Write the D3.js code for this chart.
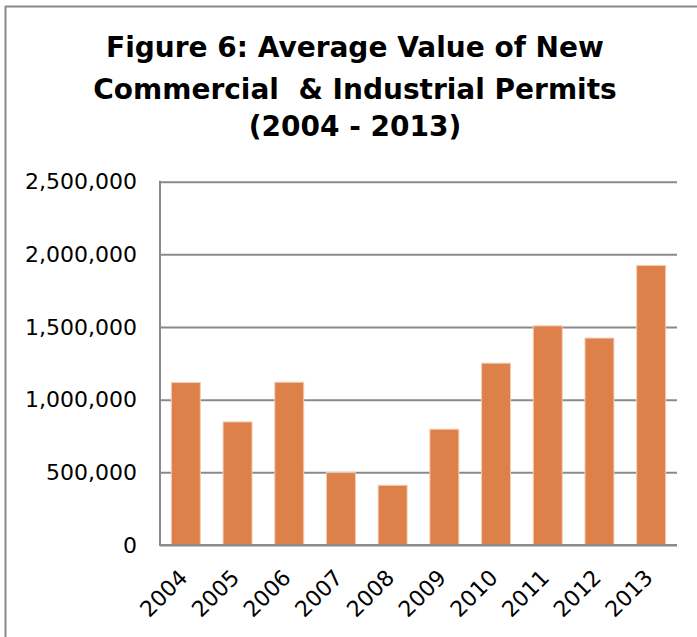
<!DOCTYPE html>
<html>
<head>
<meta charset="utf-8">
<script src="https://cdn.jsdelivr.net/npm/d3@7/dist/d3.min.js"></script>
<style>
  html, body { margin: 0; padding: 0; background: #fff; }
  svg { display: block; }
</style>
</head>
<body>
<script>
const years = ["2004","2005","2006","2007","2008","2009","2010","2011","2012","2013"];
const values = [1118000, 847000, 1120000, 498000, 411000, 797000, 1251000, 1508000, 1424000, 1924000];
const yTicks = [0, 500000, 1000000, 1500000, 2000000, 2500000];
const titleLines = ["Figure 6: Average Value of New", "Commercial  & Industrial Permits", "(2004 - 2013)"];

(function () {
const W = 697, H = 637;
const svg = d3.select("body").append("svg").attr("width", W).attr("height", H);

const pLeft = 160, pRight = 677, pTop = 181.7, pBottom = 545;
const x = d3.scaleBand().domain(years).range([pLeft, pRight]).paddingInner(0.44).paddingOuter(0.22);
const y = d3.scaleLinear().domain([0, 2500000]).range([pBottom, pTop]);

const grey = "#8a8a8a";

// frame
svg.append("line").attr("x1", 5).attr("x2", W).attr("y1", 6.5).attr("y2", 6.5)
  .attr("stroke", grey).attr("stroke-width", 2);
svg.append("line").attr("x1", 5.5).attr("x2", 5.5).attr("y1", 6).attr("y2", H)
  .attr("stroke", grey).attr("stroke-width", 2);

// title
const title = svg.append("text")
  .attr("font-family", "'DejaVu Sans', sans-serif")
  .attr("font-weight", "bold")
  .attr("font-size", 28)
  .attr("text-anchor", "middle")
  .attr("fill", "#000")
  .attr("xml:space", "preserve")
  .style("white-space", "pre");
const baselines = [57, 98.5, 136];
titleLines.forEach((t, i) => {
  title.append("tspan").attr("x", 355).attr("y", baselines[i]).text(t);
});

// y axis with gridlines
const yAxis = d3.axisLeft(y).tickValues(yTicks).tickFormat(d3.format(","))
  .tickSize(-(pRight - pLeft)).tickPadding(23);
const gy = svg.append("g").attr("transform", `translate(${pLeft},0)`).call(yAxis);
gy.select(".domain").remove();
gy.selectAll(".tick line").attr("stroke", grey).attr("stroke-width", 2);
gy.selectAll(".tick text")
  .attr("font-family", "'DejaVu Sans', sans-serif")
  .attr("font-size", 22)
  .attr("fill", "#000");

// left axis line
svg.append("line").attr("x1", pLeft).attr("x2", pLeft).attr("y1", pTop - 1).attr("y2", pBottom + 1)
  .attr("stroke", grey).attr("stroke-width", 2);

// bars
svg.append("g").selectAll("rect").data(years).join("rect")
  .attr("x", d => x(d))
  .attr("width", x.bandwidth())
  .attr("y", (d, i) => y(values[i]))
  .attr("height", (d, i) => y(0) - y(values[i]))
  .attr("fill", "#DE8049")
  .attr("stroke", "#f2cdb4")
  .attr("stroke-width", 1);

// x axis line
svg.append("line").attr("x1", pLeft - 1).attr("x2", pRight).attr("y1", pBottom).attr("y2", pBottom)
  .attr("stroke", grey).attr("stroke-width", 2);

// x labels
svg.append("g").selectAll("text").data(years).join("text")
  .attr("transform", d => `translate(${x(d) + x.bandwidth() / 2 + 3},579) rotate(-45)`)
  .attr("text-anchor", "end")
  .attr("font-family", "'DejaVu Sans', sans-serif")
  .attr("font-size", 22)
  .attr("fill", "#000")
  .text(d => d);
})();
</script>
</body>
</html>
